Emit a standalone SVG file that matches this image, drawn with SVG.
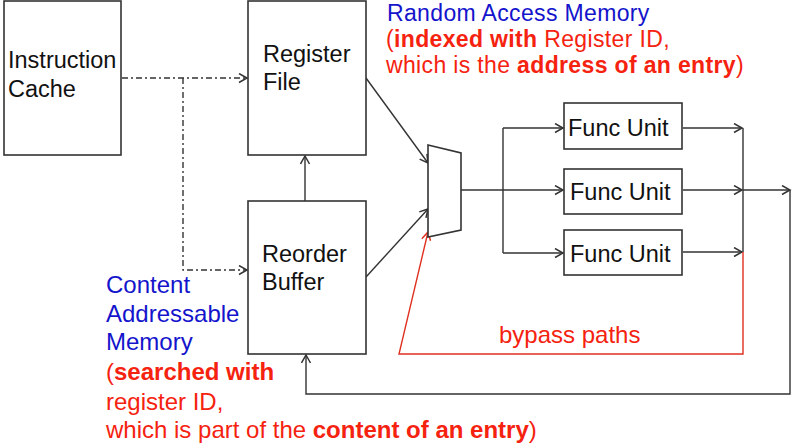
<svg xmlns="http://www.w3.org/2000/svg" width="800" height="444" viewBox="0 0 800 444">
<style>
.box{fill:#fff;stroke:#333;stroke-width:1.6}
.t{font-family:"Liberation Sans",Arial,sans-serif;font-size:23.5px;fill:#111}
.blue{font-family:"Liberation Sans",Arial,sans-serif;font-size:24px;fill:#1414cc}
.red{font-family:"Liberation Sans",Arial,sans-serif;font-size:24px;fill:#f52210}
.ram{font-size:23px;letter-spacing:0.35px}
.b{font-weight:bold}
.ln{fill:none;stroke:#333;stroke-width:1.4}
.dd{fill:none;stroke:#333;stroke-width:1.4;stroke-dasharray:6 3 2 3}
.rl{fill:none;stroke:#e03020;stroke-width:1.4}
</style>
<defs>
<marker id="ar" markerUnits="userSpaceOnUse" markerWidth="12" markerHeight="12" refX="9" refY="5" orient="auto">
<path d="M1,0.5 L9,5 L1,9.5" fill="none" stroke="#333" stroke-width="1.5"/>
</marker>
<marker id="arr" markerUnits="userSpaceOnUse" markerWidth="12" markerHeight="12" refX="9" refY="5" orient="auto">
<path d="M1,0.5 L9,5 L1,9.5" fill="none" stroke="#e03020" stroke-width="1.5"/>
</marker>
</defs>
<rect width="800" height="444" fill="#fff"/>
<g id="connectors">
<path class="dd" d="M122,78 H247" marker-end="url(#ar)"/>
<path class="dd" d="M183,78 V270 H247" marker-end="url(#ar)"/>
<path class="ln" d="M305,201 V156" marker-end="url(#ar)"/>
<path class="ln" d="M366,78 L428,163" marker-end="url(#ar)"/>
<path class="ln" d="M366,277 L428,209" marker-end="url(#ar)"/>
<path class="ln" d="M461,190 H503"/>
<path class="ln" d="M503,128 V253"/>
<path class="ln" d="M503,128 H563" marker-end="url(#ar)"/>
<path class="ln" d="M503,190 H563" marker-end="url(#ar)"/>
<path class="ln" d="M503,253 H563" marker-end="url(#ar)"/>
<path class="ln" d="M683,128 H742" marker-end="url(#ar)"/>
<path class="ln" d="M683,190 H742" marker-end="url(#ar)"/>
<path class="ln" d="M683,252 H742" marker-end="url(#ar)"/>
<path class="ln" d="M743,128 V252"/>
<path class="ln" d="M743,190 H790" marker-end="url(#ar)"/>
<path class="ln" d="M790,190 V394 H306 V355" marker-end="url(#ar)"/>
<path class="rl" d="M743,252 V354 H399 L428,232" marker-end="url(#arr)"/>
</g>
<g id="instruction-cache">
<rect class="box" x="4" y="1" width="117" height="154"/>
<text class="t" x="8" y="68">Instruction</text>
<text class="t" x="8" y="97">Cache</text>
</g>
<g id="register-file">
<rect class="box" x="248" y="1" width="118" height="154"/>
<text class="t" x="263" y="62">Register</text>
<text class="t" x="263" y="90">File</text>
</g>
<g id="reorder-buffer">
<rect class="box" x="248" y="201" width="118" height="153"/>
<text class="t" x="262" y="262">Reorder</text>
<text class="t" x="262" y="290">Buffer</text>
</g>
<g id="mux">
<polygon class="box" points="428,145 461,153 461,230 428,237"/>
</g>
<g id="fu1">
<rect class="box" x="564" y="103" width="118" height="46"/>
<text class="t" x="568" y="136">Func Unit</text>
</g>
<g id="fu2">
<rect class="box" x="564" y="169" width="118" height="45"/>
<text class="t" x="570" y="200">Func Unit</text>
</g>
<g id="fu3">
<rect class="box" x="564" y="230" width="118" height="45"/>
<text class="t" x="570" y="262">Func Unit</text>
</g>
<g id="labels">
<text class="blue ram" x="387" y="21">Random Access Memory</text>
<text class="red ram" x="386" y="47">(<tspan class="b">indexed with</tspan> Register ID,</text>
<text class="red ram" x="386" y="73">which is the <tspan class="b">address of an entry</tspan>)</text>
<text class="blue" x="106" y="293">Content</text>
<text class="blue" x="106" y="322">Addressable</text>
<text class="blue" x="106" y="350">Memory</text>
<text class="red" x="106" y="380">(<tspan class="b">searched with</tspan></text>
<text class="red" x="106" y="410">register ID,</text>
<text class="red" x="106" y="438">which is part of the <tspan class="b">content of an entry</tspan>)</text>
<text class="red" x="499" y="343">bypass paths</text>
</g>
</svg>
